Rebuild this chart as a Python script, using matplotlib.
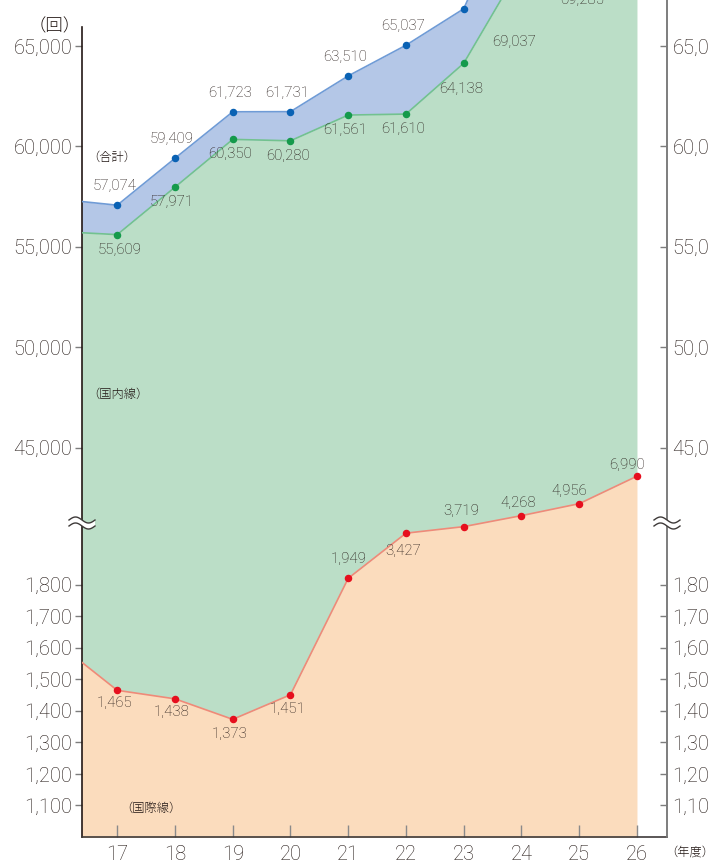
import numpy as np
import matplotlib
matplotlib.use("Agg")
import matplotlib.pyplot as plt
from matplotlib.ticker import FixedLocator, FuncFormatter, NullLocator
from matplotlib.patches import Polygon
from matplotlib.lines import Line2D

# ---------------- data ----------------
years = [16, 17, 18, 19, 20, 21, 22, 23, 24, 25, 26]
domestic = [55760, 55609, 57971, 60350, 60280, 61561, 61610, 64138, 69037, 69285, 71000]
international = [1610, 1465, 1438, 1373, 1451, 1949, 3427, 3719, 4268, 4956, 6990]
total = [57370, 57074, 59409, 61723, 61731, 63510, 65037, 66850, 73305, 74241, 77990]

xtick_years = [17, 18, 19, 20, 21, 22, 23, 24, 25, 26]
ytick_low = [1100, 1200, 1300, 1400, 1500, 1600, 1700, 1800]
ytick_high = [45000, 50000, 55000, 60000, 65000]

total_label_years = [17, 18, 19, 20, 21, 22]
domestic_label_years = [17, 18, 19, 20, 21, 22, 23]
domestic_top_label_years = [24, 25]
intl_label_years = [17, 18, 19, 20, 21, 22, 23, 24, 25, 26]

# ---------------- broken y scale ----------------
A_V, A_U = 1800.0, 252.5
LO_S = A_U / (A_V - 1000.0)
LOG_K = 80.0
B_V = 7500.0
B_U = A_U + LOG_K * np.log(B_V / A_V)
C_V, C_U = 45000.0, 389.5
HI_S = 0.0201
BC_S = (C_U - B_U) / (C_V - B_V)


def fwd(v):
    v = np.asarray(v, dtype=float)
    with np.errstate(all="ignore"):
        lo = (v - 1000.0) * LO_S
        mid = A_U + LOG_K * np.log(np.maximum(v, 1e-9) / A_V)
        bc = B_U + (v - B_V) * BC_S
        hi = C_U + (v - C_V) * HI_S
    return np.where(v <= A_V, lo, np.where(v <= B_V, mid, np.where(v <= C_V, bc, hi)))


def inv(u):
    u = np.asarray(u, dtype=float)
    with np.errstate(all="ignore"):
        lo = 1000.0 + u / LO_S
        mid = A_V * np.exp(np.clip((u - A_U) / LOG_K, -50, 50))
        bc = B_V + (u - B_U) / BC_S
        hi = C_V + (u - C_U) / HI_S
    return np.where(u <= A_U, lo, np.where(u <= B_U, mid, np.where(u <= C_U, bc, hi)))


Y_MIN = 1000.0
Y_MAX = float(inv(837.5))
X_MIN, X_MAX = 16.39, 26.52

TXT = "#231815"
NUMFONT = ["Roboto", "DejaVu Sans"]
JPFONT = ["Noto Sans CJK JP", "DejaVu Sans"]

plt.rcParams["font.family"] = NUMFONT
plt.rcParams["font.weight"] = "light"

fig = plt.figure(figsize=(7.09, 8.63), dpi=100)
ax = fig.add_axes([82 / 709, 26 / 863, 585 / 709, 837 / 863])
ax.set_yscale("function", functions=(fwd, inv))
ax.set_xlim(X_MIN, X_MAX)
ax.set_ylim(Y_MIN, Y_MAX)

# fills
ax.fill_between(years, 0, international, color="#fbdcbd", lw=0, zorder=1)
ax.fill_between(years, international, domestic, color="#bbdec7", lw=0, zorder=1)
ax.fill_between(years, domestic, total, color="#b4c7e7", lw=0, zorder=1)

# lines
ax.plot(years, total, color="#6f9bd6", lw=1.2, zorder=3)
ax.plot(years, domestic, color="#72c28f", lw=1.2, zorder=3)
ax.plot(years, international, color="#f08a78", lw=1.2, zorder=3)

# markers (for the shown years)
idx = [years.index(y) for y in xtick_years]
ax.plot([years[i] for i in idx], [total[i] for i in idx], "o", ms=4.4, color="#0a62b4", zorder=4)
ax.plot([years[i] for i in idx], [domestic[i] for i in idx], "o", ms=4.4, color="#159a4c", zorder=4)
ax.plot([years[i] for i in idx], [international[i] for i in idx], "o", ms=4.4, color="#e60f1e", zorder=4)

LBL_FS = 10.8


def lbl(x, v, dx, dy, va):
    ax.annotate(f"{v:,}", (x, v), xytext=(dx, dy), textcoords="offset pixels",
                ha="center", va=va, fontsize=LBL_FS, color=TXT, zorder=5,
                annotation_clip=False)


for y in total_label_years:
    i = years.index(y)
    lbl(y, total[i], -3, 12, "bottom")

for y in domestic_label_years:
    i = years.index(y)
    dy = -19 if y == 23 else -8
    lbl(y, domestic[i], 2 if y == 17 else -3, dy, "top")

# domestic labels for points above the visible range
for y, fy in zip(domestic_top_label_years, [0.950, 1.0]):
    i = years.index(y)
    ax.annotate(f"{domestic[i]:,}", (y, fy), xycoords=("data", "axes fraction"),
                xytext=(-7 if y == 24 else 3, 0), textcoords="offset pixels",
                ha="center", va="center", fontsize=LBL_FS, color=TXT, zorder=5,
                annotation_clip=False)

intl_offsets = {17: (-3, -6, "top"), 18: (-3, -6, "top"), 19: (-3, -8, "top"),
                20: (-3, -7, "top"), 21: (0, 12, "bottom"), 22: (-3, -11, "top"),
                23: (-3, 9, "bottom"), 24: (-3, 6, "bottom"), 25: (-10, 6, "bottom"),
                26: (-10, 4, "bottom")}
for y in intl_label_years:
    i = years.index(y)
    dx, dy, va = intl_offsets[y]
    lbl(y, international[i], dx, dy, va)

# ---------------- axes styling ----------------
ax.spines["top"].set_visible(False)
ax.spines["left"].set_color("#231815")
ax.spines["left"].set_linewidth(1.2)
ax.spines["left"].set_bounds(Y_MIN, float(inv(810.5)))
ax.spines["bottom"].set_color("#3e3a39")
ax.spines["bottom"].set_linewidth(1.2)
ax.spines["right"].set_color("#7d7d7d")
ax.spines["right"].set_linewidth(1.2)

yt = ytick_low + ytick_high
fmt = FuncFormatter(lambda v, p: f"{int(round(v)):,}")
ax.yaxis.set_major_locator(FixedLocator(yt))
ax.yaxis.set_major_formatter(fmt)
ax.yaxis.set_minor_locator(NullLocator())
ax.tick_params(axis="y", direction="out", length=5, width=1.0, color="#7d7d7d",
               labelsize=14.5, labelcolor=TXT, pad=2, right=False)

ax.xaxis.set_major_locator(FixedLocator(xtick_years))
ax.xaxis.set_minor_locator(NullLocator())
ax.set_xticklabels([str(y) for y in xtick_years])
ax.tick_params(axis="x", direction="in", length=9, width=1.0, color="#8a8a8a",
               labelsize=14.5, labelcolor=TXT, pad=6)

# right axis
ax2 = ax.twinx()
ax2.set_yscale("function", functions=(fwd, inv))
ax2.set_ylim(Y_MIN, Y_MAX)
ax2.yaxis.set_major_locator(FixedLocator(yt))
ax2.yaxis.set_major_formatter(fmt)
ax2.yaxis.set_minor_locator(NullLocator())
ax2.tick_params(axis="y", direction="in", length=5, width=1.0, color="#7d7d7d",
                labelsize=14.5, labelcolor=TXT, pad=4)
for s in ["top", "left", "bottom"]:
    ax2.spines[s].set_visible(False)
ax2.spines["right"].set_color("#7d7d7d")
ax2.spines["right"].set_linewidth(1.2)

# ---------------- break marks ----------------
W, H = 709.0, 863.0


def break_mark(xc_px, yc_px):
    t = np.linspace(0, 1, 40)
    xs = xc_px + (t - 0.5) * 26
    y_up = (H - yc_px) + 3 + 3.0 * np.sin(2 * np.pi * t)
    y_dn = (H - yc_px) - 3 + 3.0 * np.sin(2 * np.pi * t)
    poly = np.column_stack([np.r_[xs, xs[::-1]], np.r_[y_up, y_dn[::-1]]])
    poly[:, 0] /= W
    poly[:, 1] /= H
    fig.add_artist(Polygon(poly, closed=True, transform=fig.transFigure,
                           facecolor="white", edgecolor="none", zorder=10))
    for yy in (y_up, y_dn):
        fig.add_artist(Line2D(xs / W, yy / H, transform=fig.transFigure,
                              color="#3e3a39", lw=1.0, zorder=11))


break_mark(82, 523)
break_mark(667, 523)

# ---------------- texts ----------------
JPKW = dict(family=JPFONT, color=TXT, ha="center", va="center", fontweight="light")
fig.text(55 / W, 1 - 26 / H, "（回）", fontsize=12.5, **JPKW)
fig.text(112 / W, 1 - 157 / H, "（合計）", fontsize=8.8, **JPKW)
fig.text(118 / W, 1 - 394 / H, "（国内線）", fontsize=8.8, **JPKW)
fig.text(151 / W, 1 - 808 / H, "（国際線）", fontsize=8.8, **JPKW)
fig.text(690 / W, 1 - 852 / H, "（年度）", fontsize=8.8, **JPKW)

fig.savefig("out.png", dpi=100)
